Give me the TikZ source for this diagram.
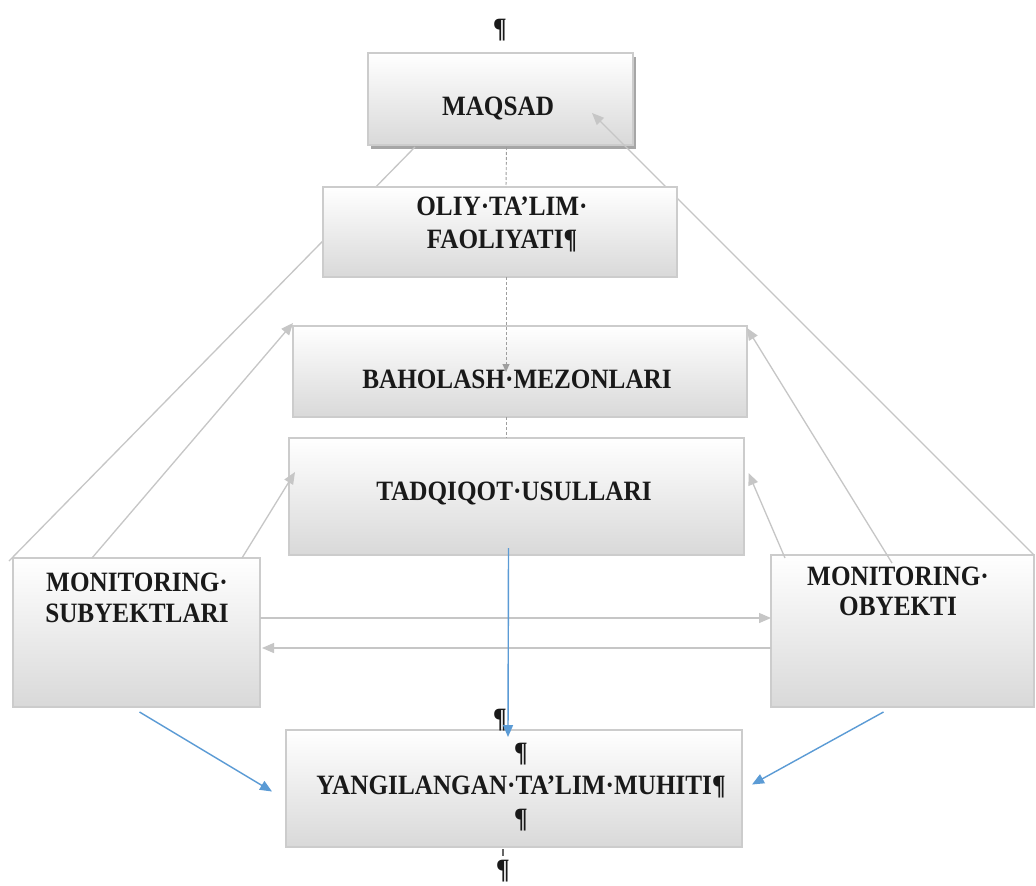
\documentclass[tikz,border=0pt]{standalone}
\usepackage{fontspec}
\setmainfont{Liberation Serif}[FakeStretch=0.9]
\usetikzlibrary{arrows.meta,calc,shadows}
\definecolor{lgray}{HTML}{C6C6C6}
\definecolor{bgray}{HTML}{CCCCCC}
\definecolor{lblue}{HTML}{5B9BD5}
\begin{document}
\begin{tikzpicture}[x=1pt,y=-1pt,
  box/.style={draw=bgray, line width=1.2pt, top color=white, bottom color=black!15, inner sep=0pt, outer sep=0pt},
  lbl/.style={font=\bfseries\fontsize{28}{31}\selectfont, align=center, inner sep=0pt, text=black!90},
  gline/.style={draw=lgray, line width=1.3pt},
  garrow/.style={gline, -{Triangle[length=12pt,width=10pt]}},
  dline/.style={draw=lgray!80!black, line width=0.9pt, densely dashed},
  barrow/.style={draw=lblue, line width=1.4pt, -{Triangle[length=12pt,width=10pt]}}]
\fill[white] (0,0) rectangle (1036,886);
\useasboundingbox (0,0) rectangle (1036,886);
% boxes drawn before the long lines
\node[box, minimum width=265pt, minimum height=92pt,
      drop shadow={shadow xshift=3pt, shadow yshift=-4pt, fill=black!35, opacity=1}] (maq) at (500.5,99) {};
\node[box, minimum width=247pt, minimum height=149pt] (sub) at (136.5,632.5) {};
\node[box, minimum width=263pt, minimum height=152pt] (obj) at (902.5,631) {};
% long lines (partly hidden by the middle box)
\draw[gline] ($(maq.south west)+(47,2)$) -- ($(sub.north west)+(-4,3)$);
\draw[garrow] (obj.north east) -- ($(maq.north west)+(224,60)$);
% remaining boxes
\node[box, minimum width=354pt, minimum height=90pt] (oliy) at (500,232) {};
\node[box, minimum width=454pt, minimum height=91pt] (bah) at (520,371.5) {};
\node[box, minimum width=455pt, minimum height=117pt] (tad) at (516.5,496.5) {};
\node[box, minimum width=456pt, minimum height=117pt] (yan) at (514,788.5) {};
% texts
\node[lbl, anchor=base] (tmaq) at (498,115) {MAQSAD};
\node[lbl, font=\bfseries\fontsize{28}{33}\selectfont] (toliy) at (502,224) {OLIY·TA’LIM·\\FAOLIYATI¶};
\node[lbl, anchor=base] (tbah) at (517,388) {BAHOLASH·MEZONLARI};
\node[lbl, anchor=base] (ttad) at (514,500) {TADQIQOT·USULLARI};
\node[lbl] (tsub) at (137,597.5) {MONITORING·\\SUBYEKTLARI};
\node[lbl, font=\bfseries\fontsize{28}{30}\selectfont] (tobj) at (898,591.5) {MONITORING·\\OBYEKTI};
\node[lbl, font=\bfseries\fontsize{28}{33}\selectfont] (tyan) at (521,787) {¶\\YANGILANGAN·TA’LIM·MUHITI¶\\¶};
\node[lbl] (p1) at (500,30) {¶};
\node[lbl] (p2) at (500,720) {¶};
\node[lbl] (p3) at (503,871) {¶};
% dashed vertical connector
\draw[dline] ($(maq.south)+(6,2)$) -- ($(oliy.north)+(6,0)$);
\draw[dline, -{Triangle[length=8pt,width=7pt]}] ($(oliy.south)+(6,0)$) -- ($(bah.north)+(-14,46)$);
\draw[dline] ($(bah.south)+(-14,0)$) -- ($(tad.north)+(-10.5,0)$);
% gray arrows
\draw[garrow] ($(sub.north west)+(79,0)$) -- ($(bah.north west)+(0,-3)$);
\draw[garrow] ($(sub.north west)+(229,0)$) -- ($(tad.north west)+(6,34)$);
\draw[garrow] ($(obj.north west)+(14,3)$) -- ($(tad.north east)+(4.5,35)$);
\draw[garrow] ($(obj.north west)+(121,8)$) -- ($(bah.north east)+(0,2)$);
\draw[garrow] ($(sub.east)+(0,-14.5)$) -- ($(obj.west)+(0,-13)$);
\draw[garrow] ($(obj.west)+(0,17)$) -- ($(sub.east)+(2,15.5)$);
% blue arrows
\draw[barrow] ($(tad.south)+(-8,-7)$) -- ($(yan.north)+(-6,7)$);
\draw[barrow] ($(sub.south)+(3,5)$) -- ($(yan.west)+(-14,3)$);
\draw[barrow] ($(obj.south)+(-19,5)$) -- ($(yan.east)+(10,-4)$);
% small mark under the bottom box
\draw[black!60, line width=1.5pt] ($(yan.south)+(-11,2)$) -- ($(p3.north)+(0,-4)$);
\end{tikzpicture}
\end{document}
